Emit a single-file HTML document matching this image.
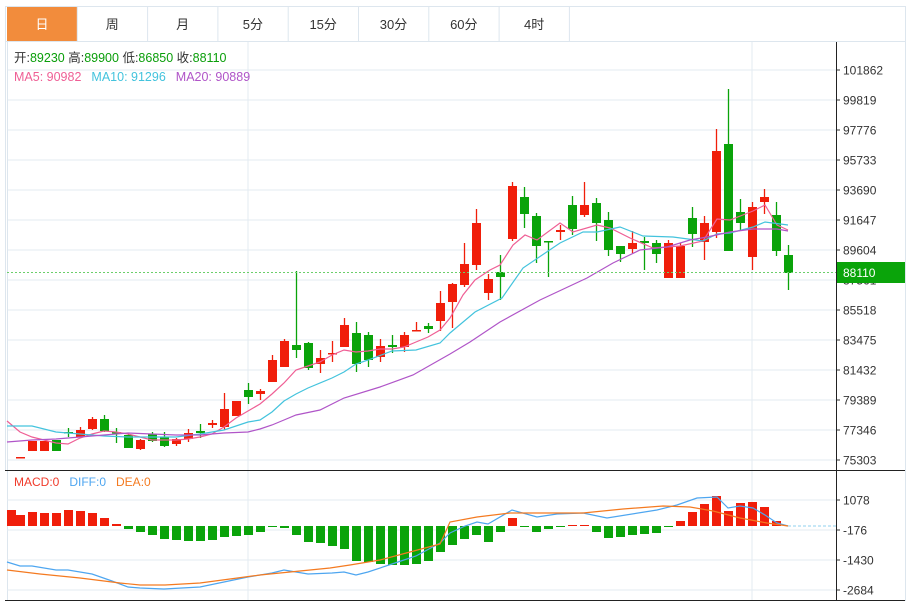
<!DOCTYPE html>
<html><head><meta charset="utf-8"><style>
body{margin:0;background:#fff;width:913px;height:601px;overflow:hidden;font-family:"Liberation Sans","Noto Sans CJK SC",sans-serif}
svg text{font-family:"Liberation Sans","Noto Sans CJK SC",sans-serif}
</style></head><body>
<svg id="s" width="913" height="601" xmlns="http://www.w3.org/2000/svg"></svg>
<script>
const s=document.getElementById('s');let h='';
h+='<rect x="5.5" y="6.5" width="900" height="464" fill="none" stroke="#dde6ee"/>';
const tabs=['日','周','月','5分','15分','30分','60分','4时'];
h+='<line x1="5" y1="41.5" x2="906" y2="41.5" stroke="#dde6ee"/>';
tabs.forEach((t,i)=>{const x=7+i*70.3;
 if(i==0)h+=`<rect x="${x}" y="7" width="70" height="34" fill="#f28c3c"/>`;
 h+=`<line x1="${x+70.3}" y1="7" x2="${x+70.3}" y2="41" stroke="#dde6ee"/>`;
 h+=`<text x="${x+35}" y="29" font-size="13" text-anchor="middle" fill="${i==0?'#fff':'#333'}">${t}</text>`;});
const labs=['101862','99819','97776','95733','93690','91647','89604','87561','85518','83475','81432','79389','77346','75303'];
labs.forEach((l,i)=>{const y=70+i*30;h+=`<line x1="7" y1="${y}" x2="836" y2="${y}" stroke="#e3ebf2"/><line x1="836" y1="${y}" x2="840" y2="${y}" stroke="#333"/><text x="843" y="${y+4.5}" font-size="12" fill="#333">${l}</text>`;});
[248,752].forEach(x=>{h+=`<line x1="${x}" y1="42" x2="${x}" y2="600" stroke="#e3ebf2"/>`;});
h+='<line x1="7.5" y1="42" x2="7.5" y2="600" stroke="#dde6ee"/>';
[500,530,560,590].forEach((y,i)=>{h+=`<line x1="7" y1="${y}" x2="836" y2="${y}" stroke="#e3ebf2"/><line x1="836" y1="${y}" x2="840" y2="${y}" stroke="#333"/><text x="843" y="${y+4.5}" font-size="12" fill="#333">${['1078','-176','-1430','-2684'][i]}</text>`;});
const C=[[457,458,457,458,'r'],[441,451,441,451,'r'],[441,451,441,451,'r'],[440,451,440,451,'g'],[432,433,428,437,'g'],[430,437,427,437,'r'],[419,429,417,430,'r'],[419,431,415,432,'g'],[432,433,428,443,'g'],[435,448,434,448,'g'],[440,449,439,450,'r'],[434,441,432,442,'g'],[437,446,432,447,'g'],[439,444,438,446,'r'],[433,439,429,442,'r'],[431,433,424,438,'g'],[423,425,420,428,'r'],[409,427,393,430,'r'],[401,416,401,416,'r'],[390,397,383,404,'g'],[391,394,389,400,'r'],[360,382,355,382,'r'],[341,367,339,367,'r'],[345,350,271,358,'g'],[343,368,342,370,'g'],[358,364,350,373,'r'],[353,354,341,362,'r'],[325,347,318,347,'r'],[333,364,322,372,'g'],[335,360,332,367,'g'],[346,357,339,362,'r'],[345,347,335,353,'g'],[335,347,332,352,'r'],[330,331,322,331,'r'],[326,329,323,333,'g'],[303,321,291,331,'r'],[284,302,283,328,'r'],[264,285,243,287,'r'],[223,265,209,270,'r'],[279,293,274,300,'r'],[272,277,255,300,'g'],[186,239,182,241,'r'],[197,214,187,228,'g'],[216,246,213,263,'g'],[241,242,241,277,'g'],[230,232,225,240,'r'],[205,229,196,235,'g'],[205,215,182,217,'r'],[203,223,198,241,'g'],[220,250,212,256,'g'],[246,254,246,262,'g'],[243,249,231,253,'r'],[241,243,237,270,'g'],[243,254,240,263,'g'],[243,278,240,278,'r'],[246,278,243,278,'r'],[218,234,207,247,'g'],[223,242,216,260,'r'],[151,232,129,238,'r'],[144,251,89,251,'g'],[212,223,199,230,'g'],[207,257,202,270,'r'],[197,202,189,214,'r'],[215,251,202,256,'g'],[255,273,245,290,'g']];
const col={r:'#f01e0a',g:'#0aa30a'};
const SP=12.0;
C.forEach((c,i)=>{const x=20.5+SP*i,f=col[c[4]];h+=`<line x1="${x}" y1="${c[2]}" x2="${x}" y2="${c[3]}" stroke="${f}" stroke-width="1.3"/><rect x="${x-4.5}" y="${c[0]}" width="9" height="${Math.max(1.5,c[1]-c[0])}" fill="${f}"/>`;});
const pl=(p,c)=>{h+=`<polyline points="${p.map(q=>q.join(',')).join(' ')}" fill="none" stroke="${c}" stroke-width="1.2"/>`;};
pl([[7,421],[20,432],[32,437],[44,440],[56,443],[68,444],[80,438],[92,434],[104,431],[116,432],[128,434],[140,437],[152,440],[176,440],[188,439],[200,437],[212,434],[224,427],[236,418],[248,411],[260,404],[272,394],[284,383],[296,370],[308,366],[320,362],[332,355],[344,350],[356,352],[368,351],[380,349],[392,349],[404,347],[416,342],[428,337],[440,330],[450,318],[463,295],[475,280],[490,270],[500,265],[513,245],[525,235],[537,240],[560,223],[573,232],[597,225],[610,228],[630,238],[653,248],[680,246],[703,241],[717,219],[730,220],[753,211],[765,205],[777,225],[788,230]],'#ef5f95');
pl([[7,426],[32,426],[56,432],[80,434],[104,436],[128,437],[176,437],[200,434],[224,430],[248,422],[260,420],[272,412],[284,401],[296,394],[308,388],[332,378],[344,372],[356,364],[368,360],[392,351],[416,350],[440,343],[450,333],[475,312],[502,298],[523,268],[560,243],[583,232],[597,232],[620,227],[643,236],[673,237],[703,241],[717,234],[730,233],[753,227],[765,222],[788,225]],'#43c3dd');
pl([[7,442],[32,440],[56,439],[80,437],[104,435],[128,433],[152,434],[176,435],[200,435],[224,433],[248,432],[260,429],[272,425],[284,420],[296,415],[320,410],[344,398],[380,387],[413,375],[450,354],[470,342],[500,322],[540,300],[587,278],[613,263],[640,250],[667,247],[690,240],[707,237],[730,232],[753,229],[777,229],[788,231]],'#b055c8');
h+='<line x1="7" y1="272.5" x2="836" y2="272.5" stroke="#6bcf6b" stroke-dasharray="2,2"/>';
h+='<rect x="837" y="262" width="68" height="21" fill="#0aa40a"/><text x="843" y="277" font-size="12" fill="#fff">88110</text>';
h+='<text x="14" y="62" font-size="12.5" fill="#333">开:<tspan fill="#0a9e0a">89230</tspan>  高:<tspan fill="#0a9e0a">89900</tspan>  低:<tspan fill="#0a9e0a">86850</tspan>  收:<tspan fill="#0a9e0a">88110</tspan></text>';
h+='<text x="14" y="81" font-size="12.5" fill="#ef5f95">MA5: 90982<tspan dx="10" fill="#43c3dd">MA10: 91296</tspan><tspan dx="10" fill="#b055c8">MA20: 90889</tspan></text>';
const M=[510,515,512,513,513,510,511,513,518,524,529,532,535,539,540,541,541,540,537,536,535,532,527,528,535,542,543,546,549,561,562,564,565,565,564,561,552,545,539,535,542,532,518,527,532,529,526,525,525,532,538,537,535,534,533,527,521,512,504,496,511,503,502,507,521];
M.forEach((y,k)=>{const i=k-1,x=20.5+SP*i;const r=y<526;h+=`<rect x="${Math.max(7,x-4.5)}" y="${r?y:526}" width="9" height="${Math.max(1,Math.abs(y-526))}" fill="${r?col.r:col.g}"/>`;});
h+='<line x1="788" y1="526" x2="836" y2="526" stroke="#8fd0ef" stroke-dasharray="3,2"/>';
pl([[7,562],[20,566],[32,566],[56,570],[68,570],[92,574],[112,581],[128,587],[140,588],[164,589],[200,587],[224,582],[248,577],[272,573],[284,570],[296,572],[308,574],[332,573],[344,572],[356,575],[368,572],[392,564],[416,556],[440,543],[450,533],[465,526],[477,522],[488,524],[512,510],[537,517],[557,514],[583,513],[607,518],[657,510],[677,505],[697,498],[717,497],[728,508],[740,506],[753,508],[765,515],[777,523],[788,526]],'#4ea6f0');
pl([[7,570],[40,574],[80,578],[120,583],[140,585],[165,585],[200,583],[230,579],[260,575],[290,572],[330,568],[350,565],[380,560],[410,552],[440,544],[450,522],[477,517],[510,513],[550,513],[583,513],[623,509],[663,506],[690,507],[713,511],[740,518],[767,523],[788,526]],'#f47a20');
h+='<text x="14" y="486" font-size="12" fill="#f03a2a">MACD:0<tspan dx="10" fill="#4ea6f0">DIFF:0</tspan><tspan dx="10" fill="#f47a20">DEA:0</tspan></text>';
h+='<line x1="5" y1="470.5" x2="906" y2="470.5" stroke="#222"/><line x1="5" y1="600.5" x2="906" y2="600.5" stroke="#222"/><line x1="836.5" y1="42" x2="836.5" y2="601" stroke="#222"/><line x1="905.5" y1="42" x2="905.5" y2="601" stroke="#dde6ee"/>';
s.innerHTML=h;
</script>
</body></html>
